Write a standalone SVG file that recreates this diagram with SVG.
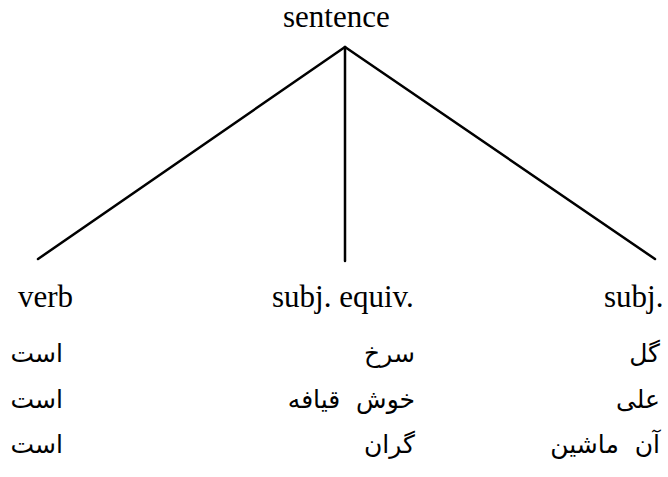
<svg xmlns="http://www.w3.org/2000/svg" width="668" height="477" viewBox="0 0 668 477">
<style>
.en{font-family:"Liberation Serif","Times New Roman",serif;font-size:31px;fill:#000}
.fa{font-family:"DejaVu Sans","Noto Sans",sans-serif;font-size:25px;fill:#000;text-anchor:end}
.edge{stroke:#000;stroke-width:2.5;fill:none;stroke-linecap:round}
</style>
<rect width="668" height="477" fill="#fff"/>
<g id="connectors">
<line class="edge" x1="345" y1="47" x2="38" y2="259"/>
<line class="edge" x1="345" y1="47" x2="345" y2="261"/>
<line class="edge" x1="345" y1="47" x2="655" y2="259"/>
</g>
<g id="sentence"><text class="en" x="283" y="27">sentence</text></g>
<g id="verb"><text class="en" x="18" y="307">verb</text></g>
<g id="subj-equiv"><text class="en" x="272" y="307">subj. equiv.</text></g>
<g id="subj"><text class="en" x="604" y="307">subj.</text></g>
<g id="verb-examples">
<text class="fa" x="63" y="362">است</text>
<text class="fa" x="63" y="408">است</text>
<text class="fa" x="63" y="453">است</text>
</g>
<g id="subj-equiv-examples">
<text class="fa" x="415" y="362">سرخ</text>
<text class="fa" x="415" y="408" xml:space="preserve">خوش  قیافه</text>
<text class="fa" x="415" y="453">گران</text>
</g>
<g id="subj-examples">
<text class="fa" x="660" y="362">گل</text>
<text class="fa" x="660" y="408">علی</text>
<text class="fa" x="660" y="453" xml:space="preserve">آن  ماشین</text>
</g>
</svg>
